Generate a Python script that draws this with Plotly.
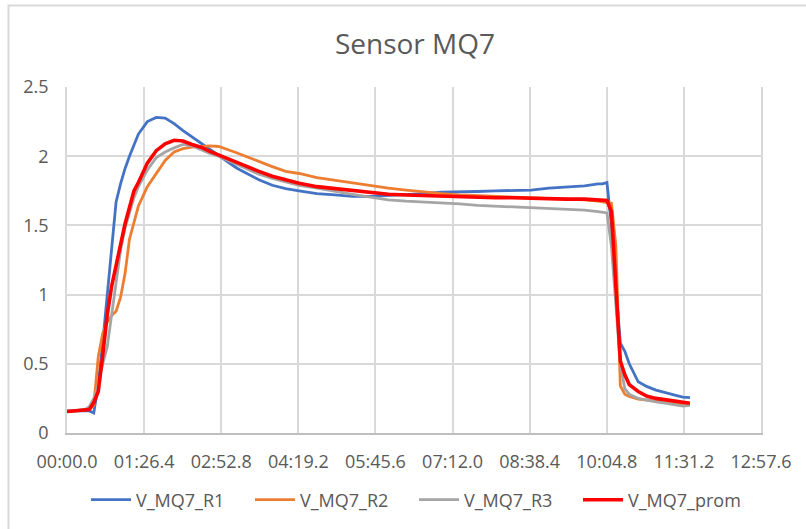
import plotly.graph_objects as go

# time in seconds
t_s = [0, 10, 20, 25, 30, 35, 40, 45, 50, 55, 60, 65, 70, 75, 80, 90, 100, 110, 120, 130,
       140, 150, 160, 170, 180, 190, 200, 215, 230, 245, 260, 280, 300, 320, 340, 360, 380,
       400, 420, 440, 460, 480, 500, 520, 540, 560, 580, 595, 600, 605, 610, 615, 620, 625,
       630, 640, 650, 660, 670, 680, 690, 698]

v_r1 = [0.16, 0.16, 0.165, 0.16, 0.145, 0.35, 0.65, 1.0, 1.35, 1.67, 1.80, 1.91, 2.0, 2.08, 2.16, 2.25, 2.28, 2.275, 2.235, 2.185,
        2.14, 2.09, 2.045, 2.0, 1.955, 1.915, 1.88, 1.83, 1.79, 1.765, 1.75, 1.73, 1.72, 1.71, 1.71, 1.715, 1.72,
        1.73, 1.74, 1.74, 1.745, 1.75, 1.75, 1.755, 1.77, 1.78, 1.785, 1.80, 1.80, 1.81, 1.50, 1.05, 0.65, 0.59,
        0.50, 0.37, 0.335, 0.31, 0.29, 0.275, 0.26, 0.255]

v_r2 = [0.155, 0.16, 0.165, 0.17, 0.2, 0.55, 0.72, 0.80, 0.85, 0.88, 0.98, 1.15, 1.40, 1.53, 1.64, 1.78, 1.88, 1.97, 2.03, 2.055,
        2.065, 2.07, 2.074, 2.07, 2.05, 2.025, 2.0, 1.96, 1.925, 1.89, 1.875, 1.845, 1.825, 1.805, 1.79, 1.77, 1.755,
        1.74, 1.73, 1.72, 1.715, 1.71, 1.705, 1.70, 1.695, 1.69, 1.685, 1.675, 1.67, 1.67, 1.66, 1.35, 0.34, 0.28,
        0.265, 0.245, 0.235, 0.23, 0.225, 0.215, 0.21, 0.205]

v_r3 = [0.155, 0.16, 0.17, 0.19, 0.25, 0.35, 0.50, 0.62, 0.85, 1.1, 1.32, 1.48, 1.60, 1.70, 1.78, 1.90, 1.99, 2.03, 2.06, 2.085,
        2.075, 2.045, 2.02, 2.0, 1.97, 1.94, 1.91, 1.87, 1.84, 1.815, 1.79, 1.77, 1.745, 1.725, 1.705, 1.685, 1.675,
        1.67, 1.665, 1.655, 1.645, 1.64, 1.635, 1.625, 1.62, 1.615, 1.61, 1.60, 1.595, 1.59, 1.35, 0.95, 0.50, 0.32,
        0.28, 0.25, 0.235, 0.225, 0.215, 0.205, 0.195, 0.2]

v_prom = [0.155, 0.16, 0.165, 0.17, 0.22, 0.30, 0.56, 0.85, 1.06, 1.22, 1.37, 1.51, 1.63, 1.75, 1.81, 1.95, 2.04, 2.09, 2.115, 2.11,
          2.085, 2.065, 2.035, 2.01, 1.98, 1.955, 1.93, 1.89, 1.855, 1.83, 1.805, 1.78, 1.765, 1.75, 1.735, 1.725, 1.72,
          1.715, 1.71, 1.705, 1.705, 1.70, 1.70, 1.695, 1.695, 1.69, 1.69, 1.685, 1.685, 1.68, 1.60, 1.05, 0.52, 0.42,
          0.35, 0.30, 0.265, 0.25, 0.24, 0.235, 0.225, 0.215]

series_names = ["V_MQ7_R1", "V_MQ7_R2", "V_MQ7_R3", "V_MQ7_prom"]
x_tick_vals = [0, 86.4, 172.8, 259.2, 345.6, 432.0, 518.4, 604.8, 691.2, 777.6]
x_tick_text = ["00:00.0", "01:26.4", "02:52.8", "04:19.2", "05:45.6",
               "07:12.0", "08:38.4", "10:04.8", "11:31.2", "12:57.6"]
y_tick_vals = [0, 0.5, 1, 1.5, 2, 2.5]
y_tick_text = ["0", "0.5", "1", "1.5", "2", "2.5"]

colors = ["#4472C4", "#ED7D31", "#A5A5A5", "#FF0000"]
widths = [2.8, 2.8, 2.8, 3.6]
values = [v_r1, v_r2, v_r3, v_prom]

FONT = "Open Sans"
TXT = "#595959"

fig = go.Figure()
for name, vals, c, w in zip(series_names, values, colors, widths):
    fig.add_trace(go.Scatter(x=t_s, y=vals, mode="lines", name=name,
                             line=dict(color=c, width=w)))

W, H = 806, 529
L, R, T, B = 67, 45, 87, 96
pw, ph = W - L - R, H - T - B

def px_x(p):
    return (p - L) / pw

def px_y(p):
    return (H - B - p) / ph

fig.update_layout(
    width=W, height=H,
    margin=dict(l=L, r=R, t=T, b=B, autoexpand=False),
    paper_bgcolor="white", plot_bgcolor="white",
    font=dict(family=FONT, color=TXT, size=18),
    title=dict(text="Sensor MQ7", x=415 / W, xanchor="center",
               y=1 - 44 / H, yanchor="middle",
               font=dict(family=FONT, size=28, color=TXT)),
    showlegend=True,
    legend=dict(orientation="h", x=0.5, xanchor="center",
                y=px_y(500), yanchor="middle",
                font=dict(family=FONT, size=18, color=TXT),
                entrywidth=109, entrywidthmode="pixels",
                itemwidth=40, bgcolor="rgba(0,0,0,0)"),
    shapes=[dict(type="rect", xref="paper", yref="paper",
                 x0=px_x(8.5), x1=px_x(812), y0=px_y(540), y1=px_y(5.5),
                 line=dict(color="#d9d9d9", width=2), fillcolor="rgba(0,0,0,0)",
                 layer="below")],
)

fig.update_xaxes(range=[0, 777.6], tickmode="array", tickvals=x_tick_vals,
                 ticktext=x_tick_text, showgrid=True, gridcolor="#d9d9d9", gridwidth=1.5,
                 showline=True, linecolor="#bfbfbf", linewidth=1.5, zeroline=False,
                 ticks="outside", ticklen=12, tickcolor="rgba(0,0,0,0)",
                 tickfont=dict(family=FONT, size=18, color=TXT))
fig.update_yaxes(range=[0, 2.5], tickmode="array", tickvals=y_tick_vals,
                 ticktext=y_tick_text, showgrid=True, gridcolor="#d9d9d9", gridwidth=1.5,
                 showline=True, mirror=True, linecolor="#d9d9d9", linewidth=1.5,
                 zeroline=False, ticks="outside", ticklen=13, tickcolor="rgba(0,0,0,0)",
                 tickfont=dict(family=FONT, size=18, color=TXT))

fig.write_html("out.html", config={"displayModeBar": False},
               post_script="document.body.style.margin='0px';")
